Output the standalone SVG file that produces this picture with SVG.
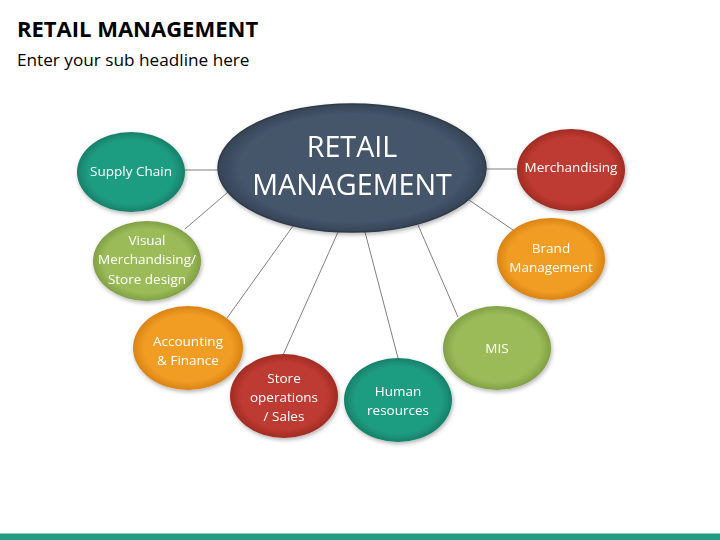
<svg xmlns="http://www.w3.org/2000/svg" width="720" height="540" viewBox="0 0 720 540">
<style>
.t{font-family:"Open Sans","Liberation Sans",sans-serif;fill:#fff;font-size:13.5px;text-anchor:middle}
.big{font-size:28.7px}
.c{stroke:#7f7f7f;stroke-width:1;fill:none}
</style>
<defs>
<radialGradient id="gTeal" cx="50%" cy="50%" r="50%"><stop offset="80%" stop-color="#1F9C81"/><stop offset="100%" stop-color="#17806A"/></radialGradient>
<radialGradient id="gGreen" cx="50%" cy="50%" r="50%"><stop offset="80%" stop-color="#9BBB59"/><stop offset="100%" stop-color="#80A045"/></radialGradient>
<radialGradient id="gOrange" cx="50%" cy="50%" r="50%"><stop offset="80%" stop-color="#F19C24"/><stop offset="100%" stop-color="#D98414"/></radialGradient>
<radialGradient id="gRed" cx="50%" cy="50%" r="50%"><stop offset="80%" stop-color="#BD3A30"/><stop offset="100%" stop-color="#A02C24"/></radialGradient>
<radialGradient id="gNavy" cx="50%" cy="50%" r="50%"><stop offset="85%" stop-color="#44546A"/><stop offset="100%" stop-color="#364456"/></radialGradient>
<filter id="sh" x="-20%" y="-20%" width="140%" height="150%"><feDropShadow dx="1" dy="2" stdDeviation="2" flood-color="#000" flood-opacity="0.3"/></filter>
</defs>
<rect width="720" height="540" fill="#fff"/>
<text x="17" y="37" font-family="'Open Sans','Liberation Sans',sans-serif" font-weight="bold" font-size="22" fill="#000">RETAIL MANAGEMENT</text>
<text x="17" y="66" font-family="'Open Sans','Liberation Sans',sans-serif" font-size="17.2" fill="#000">Enter your sub headline here</text>
<g id="connectors">
<line class="c" x1="185" y1="170" x2="220" y2="170"/>
<line class="c" x1="484" y1="169" x2="517" y2="169"/>
<line class="c" x1="228" y1="192" x2="185" y2="229"/>
<line class="c" x1="293" y1="226" x2="227" y2="318"/>
<line class="c" x1="338" y1="232" x2="283" y2="355"/>
<line class="c" x1="365" y1="232" x2="398" y2="358"/>
<line class="c" x1="418" y1="225" x2="458" y2="317"/>
<line class="c" x1="466" y1="198" x2="513" y2="230"/>
</g>
<g id="center" filter="url(#sh)">
<ellipse cx="352" cy="168" rx="134" ry="64" fill="url(#gNavy)" stroke="#2f3b4b" stroke-width="1.5"/>
<text class="t big" x="352" y="157">RETAIL</text>
<text class="t big" x="352" y="195">MANAGEMENT</text>
</g>
<g id="supply" filter="url(#sh)">
<ellipse cx="131" cy="172" rx="54" ry="40" fill="url(#gTeal)"/>
<text class="t" x="131" y="176">Supply Chain</text>
</g>
<g id="visual" filter="url(#sh)">
<ellipse cx="147" cy="261" rx="54" ry="40" fill="url(#gGreen)"/>
<text class="t" x="147" y="245">Visual</text>
<text class="t" x="147" y="264">Merchandising/</text>
<text class="t" x="147" y="284">Store design</text>
</g>
<g id="accounting" filter="url(#sh)">
<ellipse cx="188" cy="348" rx="55" ry="42" fill="url(#gOrange)"/>
<text class="t" x="188" y="346">Accounting</text>
<text class="t" x="188" y="365">&amp; Finance</text>
</g>
<g id="store" filter="url(#sh)">
<ellipse cx="284" cy="396" rx="54" ry="42" fill="url(#gRed)"/>
<text class="t" x="284" y="383">Store</text>
<text class="t" x="284" y="402">operations</text>
<text class="t" x="284" y="421">/ Sales</text>
</g>
<g id="human" filter="url(#sh)">
<ellipse cx="398" cy="400" rx="54" ry="42" fill="url(#gTeal)"/>
<text class="t" x="398" y="396">Human</text>
<text class="t" x="398" y="415">resources</text>
</g>
<g id="mis" filter="url(#sh)">
<ellipse cx="497" cy="348" rx="54" ry="42" fill="url(#gGreen)"/>
<text class="t" x="497" y="353">MIS</text>
</g>
<g id="brand" filter="url(#sh)">
<ellipse cx="551" cy="259" rx="54" ry="41" fill="url(#gOrange)"/>
<text class="t" x="551" y="253">Brand</text>
<text class="t" x="551" y="272">Management</text>
</g>
<g id="merch" filter="url(#sh)">
<ellipse cx="571" cy="170" rx="54" ry="41" fill="url(#gRed)"/>
<text class="t" x="571" y="172">Merchandising</text>
</g>
<rect x="0" y="533" width="720" height="1" fill="#8fc9bb"/>
<rect x="0" y="534" width="720" height="6" fill="#1F9C81"/>
</svg>
